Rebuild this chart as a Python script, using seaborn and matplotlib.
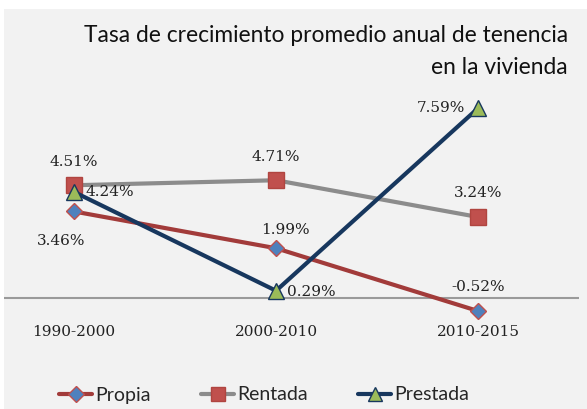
import matplotlib
matplotlib.use("Agg")
import matplotlib.pyplot as plt
import matplotlib.patches as mpatches
from matplotlib.lines import Line2D
import seaborn as sns
import pandas as pd

categories = ["1990-2000", "2000-2010", "2010-2015"]
propia = [3.46, 1.99, -0.52]
rentada = [4.51, 4.71, 3.24]
prestada = [4.24, 0.29, 7.59]
series_names = ["Propia", "Rentada", "Prestada"]
title_lines = ["Tasa de crecimiento promedio anual de tenencia", "en la vivienda"]

sns.set_theme(style="white")
plt.rcParams['font.family'] = ['DejaVu Sans']

W, H = 587, 409
fig = plt.figure(figsize=(W / 100, H / 100), dpi=100)
fig.patch.set_facecolor("white")
fig.patches.append(mpatches.Rectangle((4 / W, 0), 1 - 4 / W, 1 - 9 / H,
                                      transform=fig.transFigure, facecolor="#f2f2f2",
                                      edgecolor="none", zorder=-10))

top_px, bot_px = 60, 350
ax = fig.add_axes([4 / W, 1 - bot_px / H, 575 / W, (bot_px - top_px) / H])
ax.set_facecolor("none")
ax.set_xlim(-0.347, 2.5)
scale = 25.0
zero_px = 298
ax.set_ylim(-(bot_px - zero_px) / scale, (zero_px - top_px) / scale)

df = pd.DataFrame({"x": list(range(3)) * 3,
                   "v": propia + rentada + prestada,
                   "s": sum([[n] * 3 for n in series_names], [])})

styles = {
    "Propia": dict(line="#a23b3a", marker="D", mfc="#4f81bd", mec="#c0504d", ms=8.5),
    "Rentada": dict(line="#8c8c8c", marker="s", mfc="#c0504d", mec="#b04540", ms=11.5),
    "Prestada": dict(line="#17375e", marker="^", mfc="#9bbb59", mec="#17375e", ms=11.5),
}

ax.axhline(0, color="#9a9a9a", lw=1.5, zorder=1)

for name in series_names:
    st = styles[name]
    sub = df[df.s == name]
    sns.lineplot(data=sub, x="x", y="v", ax=ax, color=st["line"], lw=3,
                 marker=st["marker"], markersize=st["ms"], markerfacecolor=st["mfc"],
                 markeredgecolor=st["mec"], markeredgewidth=1, zorder=3, legend=False)

lab_font = dict(family="DejaVu Serif", fontsize=11, color="#222222")
offsets = {
    "Propia": [(-9, -21, "center", "center"), (7, 13, "center", "center"), (0, 17, "center", "center")],
    "Rentada": [(0, 17, "center", "center"), (0, 17, "center", "center"), (0, 17, "center", "center")],
    "Prestada": [(8, 0, "left", "center"), (8, -1, "left", "center"), (-9, 0, "right", "center")],
}
vals = {"Propia": propia, "Rentada": rentada, "Prestada": prestada}
for name in series_names:
    for i, v in enumerate(vals[name]):
        dx, dy, ha, va = offsets[name][i]
        ax.annotate(f"{v:.2f}%", (i, v), xytext=(dx, dy), textcoords="offset points",
                    ha=ha, va=va, zorder=5, **lab_font)

ax.set_xticks([])
ax.set_yticks([])
for s in ax.spines.values():
    s.set_visible(False)
ax.set_xlabel("")
ax.set_ylabel("")
for i, c in enumerate(categories):
    ax.text(i, -1.38, c, ha="center", va="center", **lab_font)

fig.text(568 / W, 1 - 35 / H, title_lines[0], ha="right", va="center",
         fontsize=16.4, family="Lato", color="#111111")
fig.text(568 / W, 1 - 68 / H, title_lines[1], ha="right", va="center",
         fontsize=16.4, family="Lato", color="#111111")

handles = []
for name in series_names:
    st = styles[name]
    handles.append(Line2D([], [], color=st["line"], lw=3, marker=st["marker"],
                          markersize=st["ms"] * 0.9, markerfacecolor=st["mfc"],
                          markeredgecolor=st["mec"]))
fig.legend(handles, series_names, loc="center", bbox_to_anchor=(264 / W, 1 - 395 / H),
           ncol=3, frameon=False, handlelength=1.7, handletextpad=0.15, columnspacing=2.6,
           prop=dict(family="Lato", size=14))

fig.savefig("out.png", dpi=100, facecolor=fig.get_facecolor())
